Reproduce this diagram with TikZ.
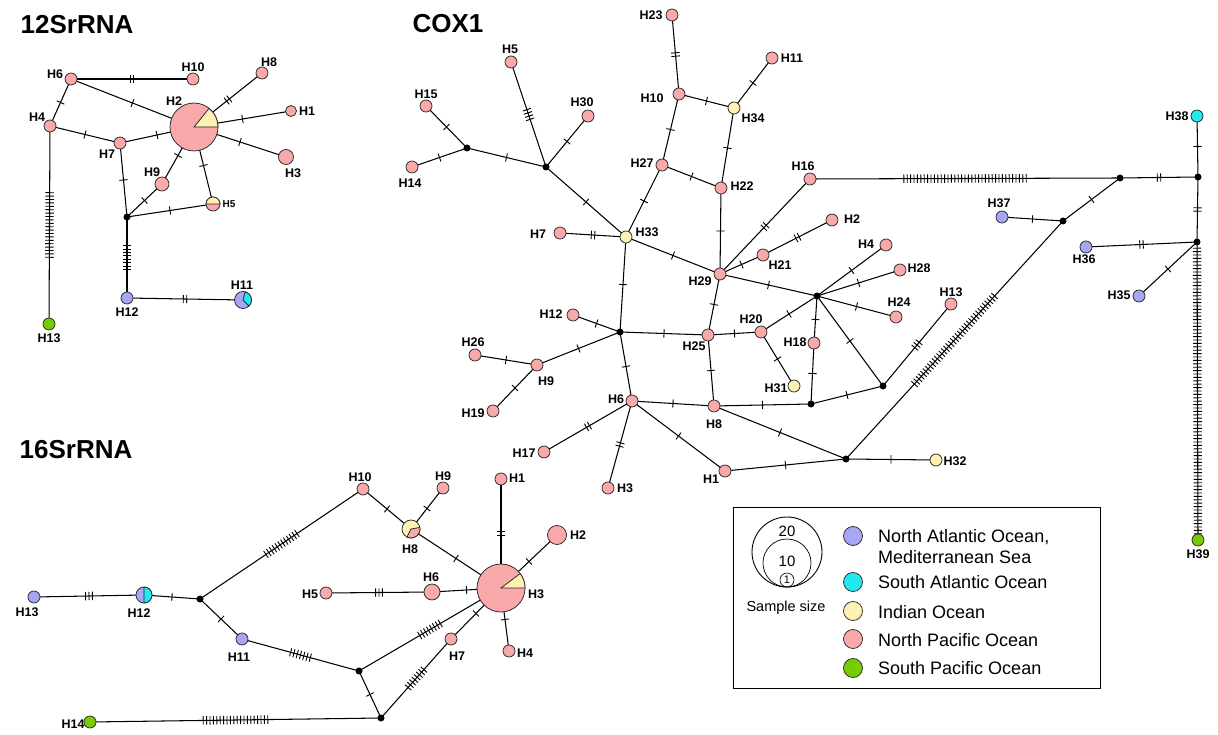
\documentclass[tikz,border=0pt]{standalone}
\usepackage{fontspec}
\setmainfont{Liberation Sans}
\usetikzlibrary{decorations.markings}
\pgfdeclarelayer{bg}
\pgfsetlayers{bg,main}
\definecolor{cNA}{HTML}{A6A6F2}
\definecolor{cSA}{HTML}{22E8F0}
\definecolor{cIO}{HTML}{FFF0B3}
\definecolor{cNP}{HTML}{F9A9A9}
\definecolor{cSP}{HTML}{77CC00}
\tikzset{
  hap/.style={circle, draw=black!85, line width=0.75pt, inner sep=0pt, minimum size=12pt, fill=cNP},
  vx/.style={circle, fill=black, inner sep=0pt, minimum size=7pt},
  lab/.style={font=\bfseries\fontsize{12.5}{14}\selectfont, inner sep=0pt},
  ttl/.style={font=\bfseries\fontsize{26}{30}\selectfont, inner sep=0pt},
  legtxt/.style={font=\fontsize{18}{20}\selectfont, inner sep=0pt, anchor=west},
  ed/.style={line width=1.05pt},
  mut/.style={postaction={decorate, decoration={markings, mark=at position 0.5 with {\foreach \k in {1,...,#1}{\draw[line width=0.9pt] ({(\k-(#1+1)/2)*3.4pt},-4.2pt) -- ({(\k-(#1+1)/2)*3.4pt},4.2pt);}}}}},
}
\newcommand\wedgeon[5]{\filldraw[fill=#4, draw=black!85, line width=0.75pt] (#1.center) -- ++(#2:#5pt) arc[start angle=#2, end angle=#3, radius=#5pt] -- cycle;}
\begin{document}
\begin{tikzpicture}[x=1pt,y=1pt]
\useasboundingbox (0,0) rectangle (1218,-735);
% ================= 12SrRNA =================
\node[ttl] (t12) at (77,-25) {12SrRNA};
\node[hap] (aH6) at (71,-79) {};
\node[hap] (aH10) at (193,-79) {};
\node[hap] (aH8) at (262,-73) {};
\node[hap, minimum size=48pt] (aH2) at (194,-127) {};
\wedgeon{aH2}{0}{51}{cIO}{24}
\node[hap, minimum size=11pt] (aH1) at (291,-111) {};
\node[hap, minimum size=15pt] (aH3) at (286,-157) {};
\node[hap] (aH4) at (50,-126) {};
\node[hap] (aH7) at (120,-143) {};
\node[hap, minimum size=14pt] (aH9) at (162,-184) {};
\node[hap, minimum size=14pt] (aH5) at (213,-204) {};
\wedgeon{aH5}{0}{180}{cIO}{7}
\node[vx] (aV) at (127,-217) {};
\node[hap, fill=cNA] (aH12) at (127,-298) {};
\node[hap, fill=cNA, minimum size=17pt] (aH11) at (243,-300) {};
\wedgeon{aH11}{-45}{75}{cSA}{8.5}
\node[hap, fill=cSP] (aH13) at (49,-324) {};
\node[lab] (laH6) at (55,-74) {H6};
\node[lab] (laH10) at (193,-67) {H10};
\node[lab] (laH8) at (269,-62) {H8};
\node[lab] (laH2) at (174,-101) {H2};
\node[lab] (laH1) at (307,-111) {H1};
\node[lab] (laH3) at (293,-173) {H3};
\node[lab] (laH4) at (37,-117) {H4};
\node[lab] (laH7) at (107,-154) {H7};
\node[lab] (laH9) at (152,-172) {H9};
\node[lab, font=\bfseries\fontsize{10}{12}\selectfont] (laH5) at (229,-204) {H5};
\node[lab] (laH11) at (242,-285) {H11};
\node[lab] (laH12) at (127,-312) {H12};
\node[lab] (laH13) at (49,-338) {H13};
% ================= COX1 =================
\node[ttl] (tcox) at (448,-24) {COX1};
\node[hap] (cH23) at (672,-15) {};
\node[hap] (cH11) at (772,-58) {};
\node[hap] (cH10) at (679,-94) {};
\node[hap, fill=cIO] (cH34) at (734,-108) {};
\node[hap] (cH27) at (662,-165) {};
\node[hap] (cH22) at (721,-188) {};
\node[hap, fill=cIO] (cH33) at (626,-237) {};
\node[hap] (cH7) at (560,-233) {};
\node[hap] (cH29) at (720,-274) {};
\node[hap] (cH21) at (763,-255) {};
\node[hap] (cH5) at (511,-62) {};
\node[hap] (cH15) at (426,-106) {};
\node[hap] (cH14) at (412,-167) {};
\node[hap] (cH30) at (588,-116) {};
\node[vx] (cV1) at (467,-148) {};
\node[vx] (cV2) at (546,-167) {};
\node[hap] (cH16) at (810,-179) {};
\node[hap] (cH2) at (832,-220) {};
\node[hap] (cH4) at (886,-245) {};
\node[hap] (cH28) at (900,-270) {};
\node[hap] (cH24) at (896,-317) {};
\node[hap] (cH13) at (951,-304) {};
\node[vx] (cV3) at (817,-296) {};
\node[hap] (cH18) at (814,-343) {};
\node[hap] (cH20) at (761,-332) {};
\node[hap] (cH25) at (708,-335) {};
\node[hap, fill=cIO] (cH31) at (794,-386) {};
\node[vx] (cV4) at (811,-404) {};
\node[vx] (cV6) at (883,-386) {};
\node[vx] (cV5) at (620,-332) {};
\node[hap] (cH12) at (573,-315) {};
\node[hap] (cH26) at (475,-355) {};
\node[hap] (cH9) at (537,-365) {};
\node[hap] (cH19) at (493,-411) {};
\node[hap] (cH6) at (632,-401) {};
\node[hap] (cH8) at (714,-406) {};
\node[hap] (cH17) at (544,-452) {};
\node[hap] (cH3) at (608,-488) {};
\node[hap] (cH1) at (725,-471) {};
\node[vx] (cV7) at (846,-459) {};
\node[hap, fill=cIO] (cH32) at (936,-460) {};
\node[vx] (cV8) at (1063,-221) {};
\node[hap, fill=cNA] (cH37) at (1002,-217) {};
\node[vx] (cV9) at (1120,-178) {};
\node[vx] (cV10) at (1198,-177) {};
\node[hap, fill=cSA] (cH38) at (1197,-116) {};
\node[vx] (cV11) at (1197,-242) {};
\node[hap, fill=cNA] (cH36) at (1086,-247) {};
\node[hap, fill=cNA] (cH35) at (1139,-296) {};
\node[hap, fill=cSP] (cH39) at (1198,-540) {};
\node[lab] (lcH23) at (651,-15) {H23};
\node[lab] (lcH11) at (792,-58) {H11};
\node[lab] (lcH10) at (652,-98) {H10};
\node[lab] (lcH34) at (753,-118) {H34};
\node[lab] (lcH27) at (642,-163) {H27};
\node[lab] (lcH22) at (742,-186) {H22};
\node[lab] (lcH33) at (647,-232) {H33};
\node[lab] (lcH7) at (538,-234) {H7};
\node[lab] (lcH29) at (700,-281) {H29};
\node[lab] (lcH21) at (780,-265) {H21};
\node[lab] (lcH5) at (510,-49) {H5};
\node[lab] (lcH15) at (426,-94) {H15};
\node[lab] (lcH14) at (410,-183) {H14};
\node[lab] (lcH30) at (582,-102) {H30};
\node[lab] (lcH16) at (803,-166) {H16};
\node[lab] (lcH2) at (852,-219) {H2};
\node[lab] (lcH4) at (866,-244) {H4};
\node[lab] (lcH28) at (919,-268) {H28};
\node[lab] (lcH24) at (899,-302) {H24};
\node[lab] (lcH13) at (951,-292) {H13};
\node[lab] (lcH18) at (795,-342) {H18};
\node[lab] (lcH20) at (751,-319) {H20};
\node[lab] (lcH25) at (694,-346) {H25};
\node[lab] (lcH31) at (776,-388) {H31};
\node[lab] (lcH12) at (551,-314) {H12};
\node[lab] (lcH26) at (473,-342) {H26};
\node[lab] (lcH9) at (546,-381) {H9};
\node[lab] (lcH19) at (473,-413) {H19};
\node[lab] (lcH6) at (616,-399) {H6};
\node[lab] (lcH8) at (714,-424) {H8};
\node[lab] (lcH17) at (524,-453) {H17};
\node[lab] (lcH3) at (625,-488) {H3};
\node[lab] (lcH1) at (711,-479) {H1};
\node[lab] (lcH32) at (955,-461) {H32};
\node[lab] (lcH37) at (999,-203) {H37};
\node[lab] (lcH38) at (1177,-116) {H38};
\node[lab] (lcH36) at (1084,-259) {H36};
\node[lab] (lcH35) at (1119,-295) {H35};
\node[lab] (lcH39) at (1198,-554) {H39};
% ================= 16SrRNA =================
\node[ttl] (t16) at (76,-450) {16SrRNA};
\node[hap] (bH10) at (363,-489) {};
\node[hap] (bH9) at (443,-488) {};
\node[hap] (bH1) at (501,-479) {};
\node[hap, fill=cIO, minimum size=18pt] (bH8) at (411,-529) {};
\wedgeon{bH8}{-117}{10}{cNP}{9}
\node[hap, minimum size=19pt] (bH2) at (557,-535) {};
\node[hap, minimum size=48pt] (bH3) at (501,-588) {};
\wedgeon{bH3}{0}{37}{cIO}{24}
\node[hap, minimum size=16pt] (bH6) at (432,-592) {};
\node[hap] (bH5) at (326,-593) {};
\node[hap, fill=cNA] (bH13) at (34,-597) {};
\node[hap, fill=cNA, minimum size=16pt] (bH12) at (144,-595) {};
\wedgeon{bH12}{-90}{90}{cSA}{8}
\node[vx] (bV12) at (200,-599) {};
\node[hap, fill=cNA] (bH11) at (242,-639) {};
\node[vx] (bV13) at (359,-671) {};
\node[hap] (bH7) at (451,-639) {};
\node[hap] (bH4) at (509,-651) {};
\node[vx] (bV14) at (381,-718) {};
\node[hap, fill=cSP] (bH14) at (90,-722) {};
\node[lab] (lbH10) at (360,-477) {H10};
\node[lab] (lbH9) at (443,-476) {H9};
\node[lab] (lbH1) at (517,-478) {H1};
\node[lab] (lbH2) at (578,-535) {H2};
\node[lab] (lbH3) at (536,-594) {H3};
\node[lab] (lbH6) at (431,-577) {H6};
\node[lab] (lbH5) at (310,-594) {H5};
\node[lab] (lbH8) at (410,-549) {H8};
\node[lab] (lbH13) at (27,-612) {H13};
\node[lab] (lbH12) at (139,-613) {H12};
\node[lab] (lbH11) at (239,-657) {H11};
\node[lab] (lbH7) at (457,-656) {H7};
\node[lab] (lbH4) at (525,-653) {H4};
\node[lab] (lbH14) at (73,-724) {H14};
% ================= legend =================
\node[draw, line width=0.8pt, minimum width=367pt, minimum height=181pt, inner sep=0pt] (legbox) at (916.5,-597.5) {};
\node[circle, draw, line width=0.9pt, minimum size=70pt, inner sep=0pt] (s20) at (787,-552) {};
\node[circle, draw, line width=0.7pt, minimum size=48pt, inner sep=0pt] (s10) at (787,-563) {};
\node[circle, draw, line width=0.6pt, minimum size=14pt, inner sep=0pt] (s1) at (787,-580) {};
\node[font=\fontsize{15}{16}\selectfont, inner sep=0pt] (n20) at (787,-531) {20};
\node[font=\fontsize{15}{16}\selectfont, inner sep=0pt] (n10) at (787,-561) {10};
\node[font=\fontsize{11}{12}\selectfont, inner sep=0pt] (n1) at (787,-580) {1};
\node[font=\fontsize{14.5}{16}\selectfont, inner sep=0pt] (ssz) at (786,-608) {Sample size};
\node[hap, fill=cNA, minimum size=19pt] (kNA) at (853,-536) {};
\node[hap, fill=cSA, minimum size=19pt] (kSA) at (853,-582) {};
\node[hap, fill=cIO, minimum size=19pt] (kIO) at (853,-611) {};
\node[hap, fill=cNP, minimum size=19pt] (kNP) at (853,-639) {};
\node[hap, fill=cSP, minimum size=19pt] (kSP) at (853,-668) {};
\node[legtxt] (tNA) at (878,-537) {North Atlantic Ocean,};
\node[legtxt] (tMS) at (878,-557) {Mediterranean Sea};
\node[legtxt] (tSA) at (878,-582) {South Atlantic Ocean};
\node[legtxt] (tIO) at (878,-612) {Indian Ocean};
\node[legtxt] (tNP) at (878,-640) {North Pacific Ocean};
\node[legtxt] (tSP) at (878,-668) {South Pacific Ocean};
% ================= edges =================
\begin{pgfonlayer}{bg}
% 12S
\draw[ed, mut=2] (aH6.center) -- (aH10.center);
\draw[ed, mut=1] (aH6.center) -- (aH2.center);
\draw[ed, mut=1] (aH6.center) -- (aH4.center);
\draw[ed, mut=1] (aH4.center) -- (aH7.center);
\draw[ed, mut=20] (aH4.center) -- (aH13.center);
\draw[ed, mut=1] (aH7.center) -- (aH2.center);
\draw[ed, mut=1] (aH7.center) -- (aV.center);
\draw[ed, mut=2] (aH2.center) -- (aH8.center);
\draw[ed, mut=1] (aH2.center) -- (aH1.center);
\draw[ed, mut=1] (aH2.center) -- (aH3.center);
\draw[ed, mut=1] (aH2.center) -- (aH9.center);
\draw[ed, mut=1] (aH2.center) -- (aH5.center);
\draw[ed, mut=1] (aH9.center) -- (aV.center);
\draw[ed, mut=1] (aH5.center) -- (aV.center);
\draw[ed, mut=8] (aV.center) -- (aH12.center);
\draw[ed, mut=2] (aH12.center) -- (aH11.center);
% COX1
\draw[ed, mut=1] (cH15.center) -- (cV1.center);
\draw[ed, mut=1] (cH14.center) -- (cV1.center);
\draw[ed, mut=1] (cV1.center) -- (cV2.center);
\draw[ed, mut=4] (cH5.center) -- (cV2.center);
\draw[ed, mut=1] (cH30.center) -- (cV2.center);
\draw[ed, mut=1] (cV2.center) -- (cH33.center);
\draw[ed, mut=2] (cH7.center) -- (cH33.center);
\draw[ed, mut=1] (cH33.center) -- (cH27.center);
\draw[ed, mut=1] (cH33.center) -- (cH29.center);
\draw[ed, mut=1] (cH33.center) -- (cV5.center);
\draw[ed, mut=1] (cH27.center) -- (cH10.center);
\draw[ed, mut=2] (cH10.center) -- (cH23.center);
\draw[ed, mut=1] (cH10.center) -- (cH34.center);
\draw[ed, mut=1] (cH34.center) -- (cH11.center);
\draw[ed, mut=1] (cH34.center) -- (cH22.center);
\draw[ed, mut=1] (cH27.center) -- (cH22.center);
\draw[ed, mut=1] (cH22.center) -- (cH29.center);
\draw[ed, mut=2] (cH29.center) -- (cH16.center);
\draw[ed, mut=1] (cH29.center) -- (cH21.center);
\draw[ed, mut=2] (cH21.center) -- (cH2.center);
\draw[ed, mut=1] (cH29.center) -- (cV3.center);
\draw[ed, mut=1] (cH29.center) -- (cH25.center);
\draw[ed, mut=1] (cV3.center) -- (cH4.center);
\draw[ed, mut=1] (cV3.center) -- (cH28.center);
\draw[ed, mut=1] (cV3.center) -- (cH24.center);
\draw[ed, mut=1] (cV3.center) -- (cH20.center);
\draw[ed, mut=1] (cV3.center) -- (cH18.center);
\draw[ed, mut=1] (cV3.center) -- (cV6.center);
\draw[ed, mut=1] (cH18.center) -- (cV4.center);
\draw[ed, mut=1] (cH20.center) -- (cH25.center);
\draw[ed, mut=1] (cH20.center) -- (cH31.center);
\draw[ed, mut=1] (cH25.center) -- (cV5.center);
\draw[ed, mut=1] (cH25.center) -- (cH8.center);
\draw[ed, mut=1] (cV5.center) -- (cH12.center);
\draw[ed, mut=1] (cV5.center) -- (cH9.center);
\draw[ed, mut=1] (cV5.center) -- (cH6.center);
\draw[ed, mut=1] (cH9.center) -- (cH26.center);
\draw[ed, mut=1] (cH9.center) -- (cH19.center);
\draw[ed, mut=1] (cH6.center) -- (cH8.center);
\draw[ed, mut=2] (cH6.center) -- (cH17.center);
\draw[ed, mut=2] (cH6.center) -- (cH3.center);
\draw[ed, mut=1] (cH6.center) -- (cH1.center);
\draw[ed, mut=1] (cH8.center) -- (cV4.center);
\draw[ed, mut=1] (cH8.center) -- (cV7.center);
\draw[ed, mut=1] (cV4.center) -- (cV6.center);
\draw[ed, mut=3] (cV6.center) -- (cH13.center);
\draw[ed, mut=1] (cH1.center) -- (cV7.center);
\draw[ed, mut=1] (cV7.center) -- (cH32.center);
\draw[ed, mut=36] (cV7.center) -- (cV8.center);
\draw[ed, mut=1] (cH37.center) -- (cV8.center);
\draw[ed, mut=1] (cV8.center) -- (cV9.center);
\draw[ed, mut=37] (cH16.center) -- (cV9.center);
\draw[ed, mut=2] (cV9.center) -- (cV10.center);
\draw[ed, mut=1] (cV10.center) -- (cH38.center);
\draw[ed, mut=2] (cV10.center) -- (cV11.center);
\draw[ed, mut=2] (cH36.center) -- (cV11.center);
\draw[ed, mut=1] (cH35.center) -- (cV11.center);
\draw[ed, mut=85] (cV11.center) -- (cH39.center);
% 16S
\draw[ed, mut=3] (bH13.center) -- (bH12.center);
\draw[ed, mut=1] (bH12.center) -- (bV12.center);
\draw[ed, mut=12] (bV12.center) -- (bH10.center);
\draw[ed, mut=1] (bV12.center) -- (bH11.center);
\draw[ed, mut=1] (bH10.center) -- (bH8.center);
\draw[ed, mut=1] (bH8.center) -- (bH9.center);
\draw[ed, mut=1] (bH8.center) -- (bH3.center);
\draw[ed, mut=2] (bH1.center) -- (bH3.center);
\draw[ed, mut=1] (bH2.center) -- (bH3.center);
\draw[ed, mut=1] (bH6.center) -- (bH3.center);
\draw[ed, mut=3] (bH5.center) -- (bH6.center);
\draw[ed, mut=1] (bH3.center) -- (bH4.center);
\draw[ed, mut=1] (bH3.center) -- (bH7.center);
\draw[ed, mut=8] (bH3.center) -- (bV13.center);
\draw[ed, mut=7] (bH11.center) -- (bV13.center);
\draw[ed, mut=1] (bV13.center) -- (bV14.center);
\draw[ed, mut=8] (bV14.center) -- (bH7.center);
\draw[ed, mut=20] (bV14.center) -- (bH14.center);
\end{pgfonlayer}
\end{tikzpicture}
\end{document}
